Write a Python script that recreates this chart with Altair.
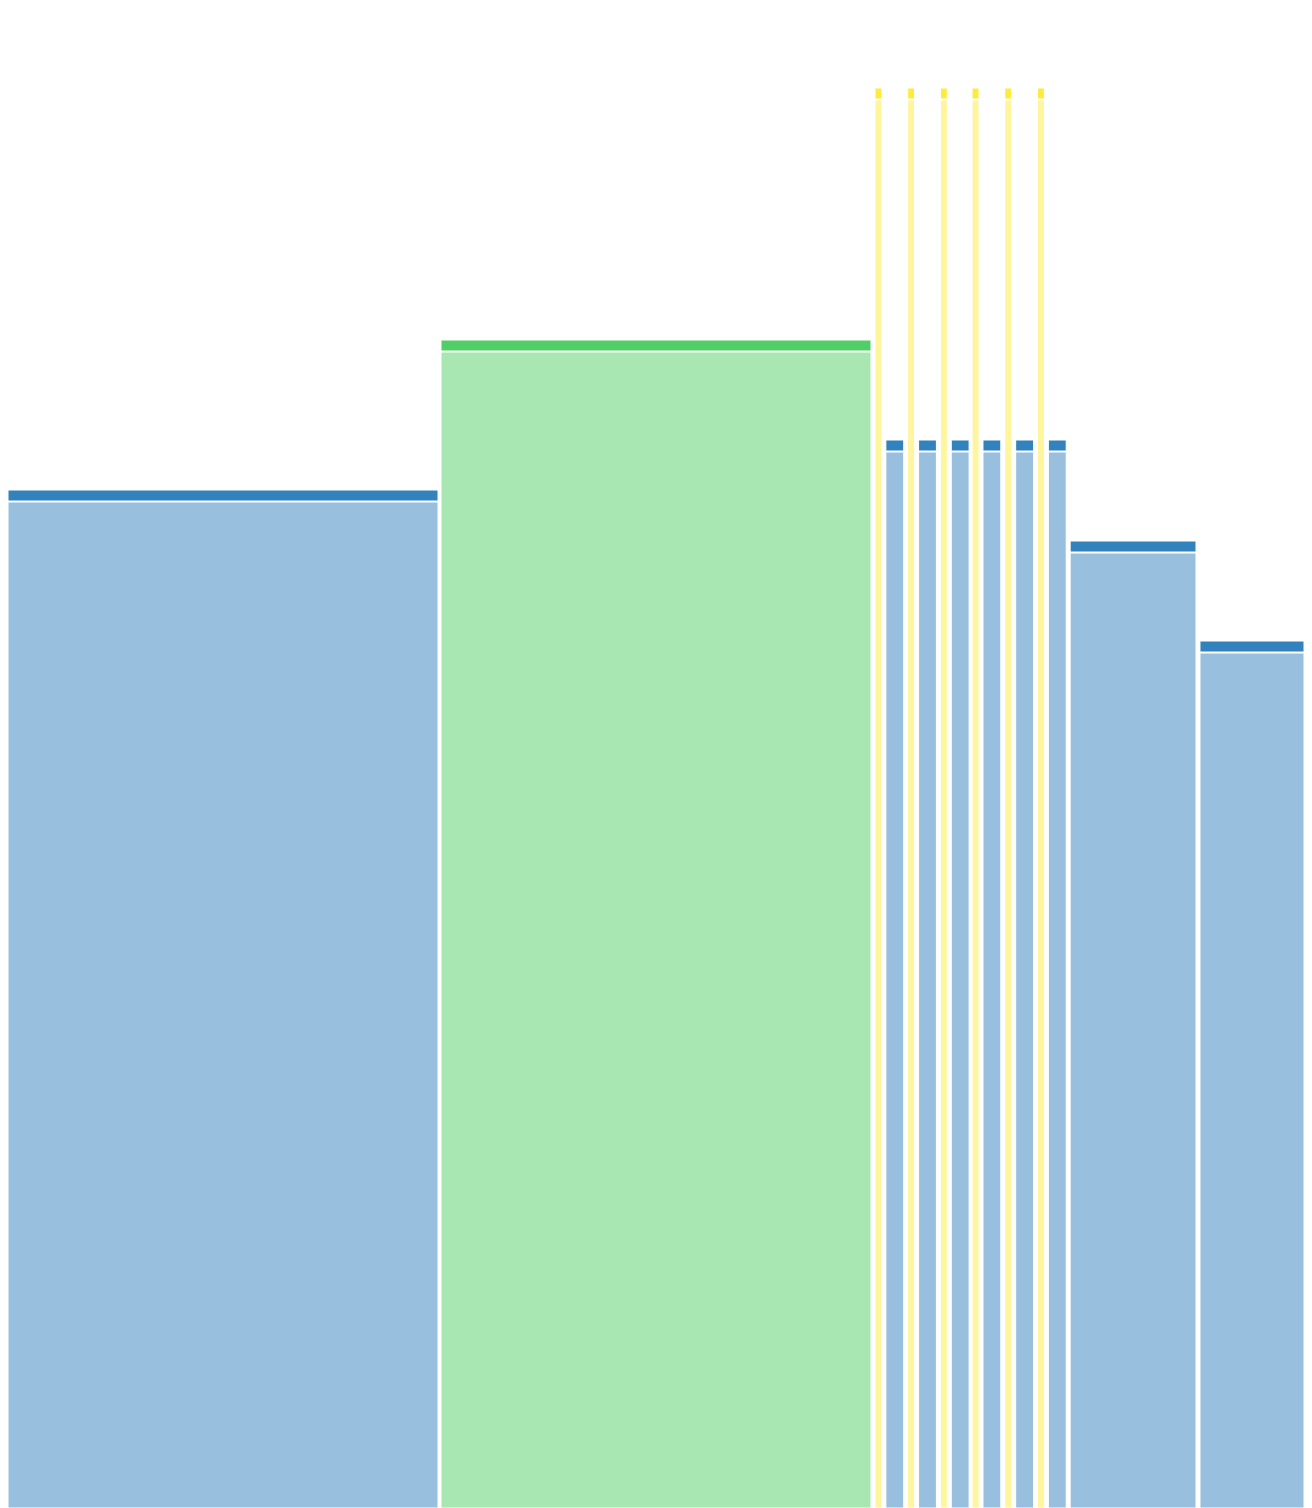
import altair as alt
import pandas as pd

# Bar edges (horizontal units) and heights
x_start = [0, 437, 875, 886, 908, 919, 941, 952, 973, 984, 1006, 1017, 1039, 1050, 1072, 1203]
x_end   = [434, 871, 882, 904, 915, 937, 948, 970, 980, 1002, 1013, 1035, 1046, 1068, 1199, 1308]
values  = [1018, 1168, 1420, 1068, 1420, 1068, 1420, 1068, 1420, 1068, 1420, 1068, 1420, 1068, 967, 867]
groups  = ["blue", "green", "yellow", "blue", "yellow", "blue", "yellow", "blue",
           "yellow", "blue", "yellow", "blue", "yellow", "blue", "blue", "blue"]

color_domain = ["blue", "green", "yellow"]
color_range = ["#3182bd", "#51cf66", "#ffeb3b"]

df = pd.DataFrame({"x0": x_start, "x1": x_end, "value": values, "group": groups})

xs = alt.Scale(domain=[0, 1308], nice=False, zero=False)
ys = alt.Scale(domain=[0, 1500], nice=False)
col = alt.Color("group:N", scale=alt.Scale(domain=color_domain, range=color_range), legend=None)

base = alt.Chart(df)

body = base.mark_rect(fillOpacity=0.5, stroke="white", strokeWidth=1, yOffset=12).encode(
    x=alt.X("x0:Q", scale=xs, axis=None),
    x2="x1:Q",
    y=alt.Y("value:Q", scale=ys, axis=None),
    y2=alt.Y2(datum=0),
    color=col,
)

cap = base.mark_rect(stroke="white", strokeWidth=1, y2Offset=11).encode(
    x=alt.X("x0:Q", scale=xs, axis=None),
    x2="x1:Q",
    y=alt.Y("value:Q", scale=ys, axis=None),
    y2="value:Q",
    color=col,
)

chart = alt.layer(body, cap).properties(
    width=1296, height=1500, padding=0,
    autosize=alt.AutoSizeParams(type="none"),
    background="white",
).configure_view(stroke=None)

chart.save("out.html", embed_options={"renderer": "svg", "actions": False})
